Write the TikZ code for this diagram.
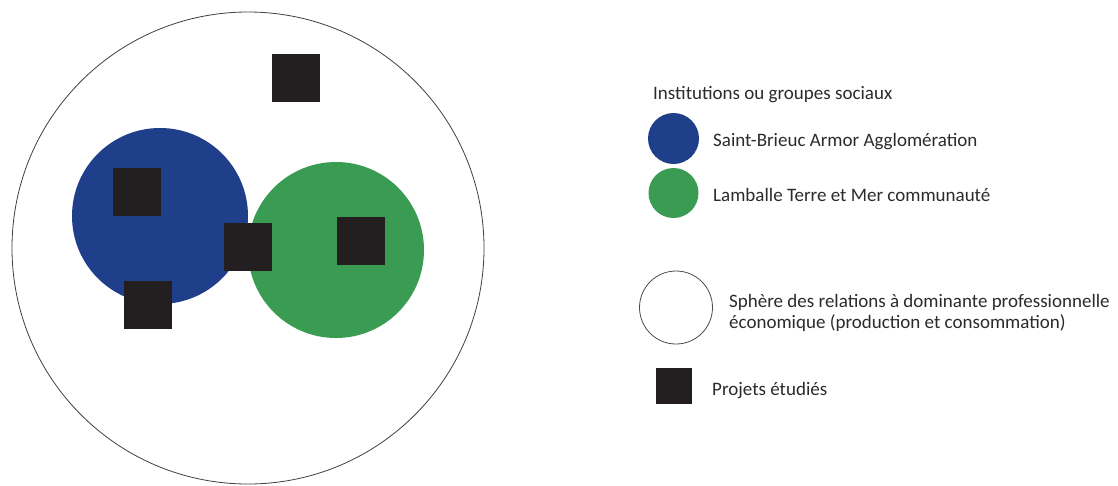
\documentclass[tikz,border=0pt]{standalone}
\usepackage{fontspec}
\setmainfont{Carlito}
\definecolor{sbblue}{HTML}{1F3F8B}
\definecolor{ltgreen}{HTML}{3A9B52}
\definecolor{proj}{HTML}{231F20}
\definecolor{txt}{HTML}{2B2B2B}
\begin{document}
\begin{tikzpicture}[x=1pt,y=-1pt,
  disc/.style={circle,inner sep=0pt,minimum size=#1},
  proj/.style={rectangle,fill=proj,inner sep=0pt,minimum size=48pt},
  legtext/.style={anchor=base west,inner sep=0pt,text=txt,font=\fontsize{19}{21}\selectfont,align=left}]
\useasboundingbox[fill=white] (0,0) rectangle (1118,485);
% main sphere
\node[disc=472pt,draw=black!75,line width=0.8pt] (sphere) at (248,248) {};
\node[disc=176pt,fill=sbblue] (blue) at (160,216) {};
\node[disc=176pt,fill=ltgreen] (green) at (336,250) {};
% projects
\node[proj] (p1) at (296,77.5) {};
\node[proj] (p2) at (137,192) {};
\node[proj] (p3) at (248,247) {};
\node[proj] (p4) at (360.5,240.5) {};
\node[proj] (p5) at (147.5,304.5) {};
% legend
\node[legtext] (title) at (653,99) {Institutions ou groupes sociaux};
\node[disc=51pt,fill=sbblue] (lblue) at (673.5,138.5) {};
\node[legtext] (tblue) at (713,146) {Saint-Brieuc Armor Agglomération};
\node[disc=50pt,fill=ltgreen] (lgreen) at (673.5,193) {};
\node[legtext] (tgreen) at (713,201) {Lamballe Terre et Mer communauté};
\node[disc=73pt,draw=black!70,line width=0.8pt] (lsphere) at (676,307.5) {};
\node[legtext] (tsphere) at (729,328) {Sphère des relations à dominante professionnelle\\économique (production et consommation)};
\node[proj,minimum size=36pt] (lproj) at (674,385.5) {};
\node[legtext] (tproj) at (712,395) {Projets étudiés};
\end{tikzpicture}
\end{document}
